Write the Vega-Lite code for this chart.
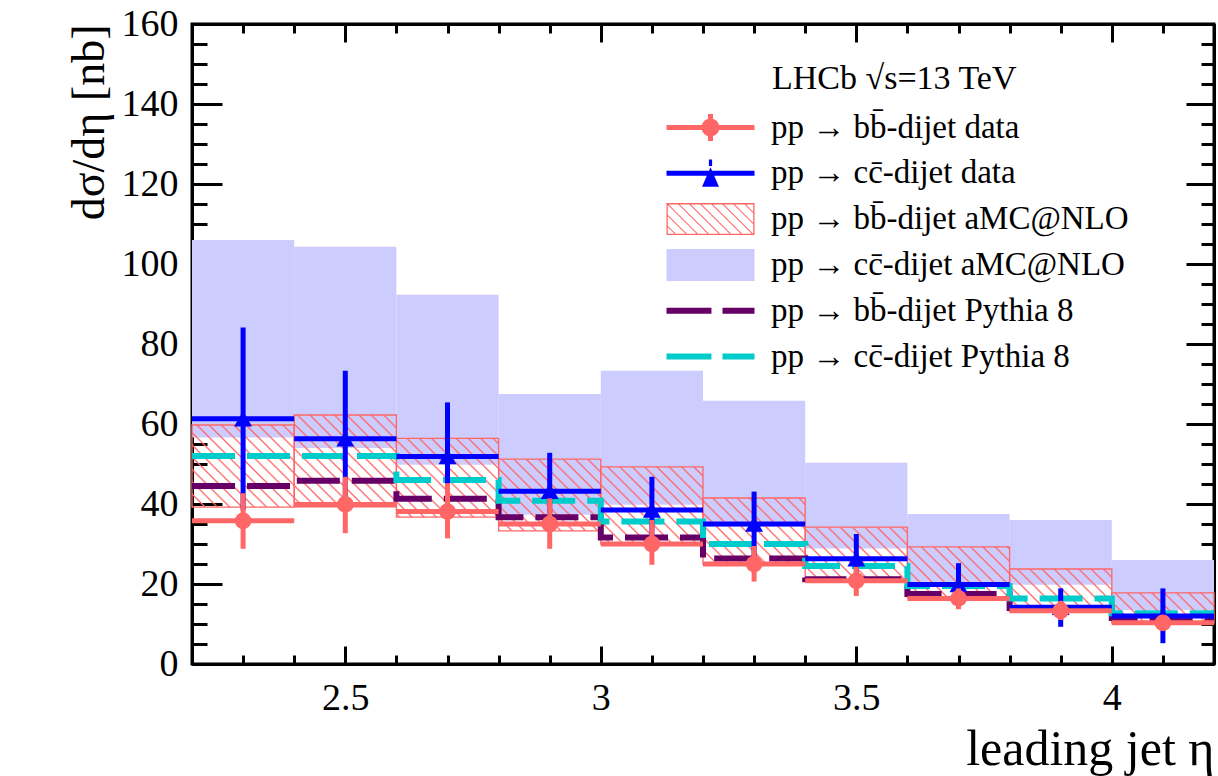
{
"$schema": "https://vega.github.io/schema/vega-lite/v6.json",
"width": 1022, "height": 640,
"autosize": {"type": "none"},
"padding": {"left": 192, "top": 24, "right": 4, "bottom": 112},
"background": "white",
"config": {
  "view": {"stroke": "black", "strokeWidth": 3},
  "axis": {"domainColor": "black", "domainWidth": 3, "tickColor": "black", "tickWidth": 3, "grid": false, "labelFont": "Liberation Serif", "labelFontSize": 38, "labelColor": "black", "titleFont": "Liberation Serif", "titleFontWeight": "normal", "titleColor": "black", "labelOverlap": false, "labelFlush": false},
  "legend": {"orient": "none", "legendX": 502, "legendY": 87, "title": null, "padding": 0, "symbolSize": 1024, "symbolStrokeWidth": 0, "labelFont": "Liberation Serif", "labelFontSize": 33, "labelColor": "black", "labelLimit": 0, "labelOffset": 44, "rowPadding": 11.8}
},
"datasets": {"bins": [
{"lo":2.2,"hi":2.4,"c":2.3,"bd":35.8,"bdl":28.8,"bdh":42.7,"cd":61.3,"cdl":38.5,"cdh":84.1,"bal":39.2,"bah":59.75,"cal":56.6,"cah":106,"bp":44.5,"cp":52},
{"lo":2.4,"hi":2.6,"c":2.5,"bd":39.9,"bdl":32.7,"bdh":46.8,"cd":56.3,"cdl":39.2,"cdh":73.3,"bal":39.3,"bah":62.25,"cal":54,"cah":104.3,"bp":45.8,"cp":52},
{"lo":2.6,"hi":2.8,"c":2.7,"bd":38.1,"bdl":31.4,"bdh":45.2,"cd":51.9,"cdl":38.4,"cdh":65.4,"bal":36.7,"bah":56.4,"cal":49.8,"cah":92.3,"bp":41.3,"cp":46},
{"lo":2.8,"hi":3.0,"c":2.9,"bd":35.0,"bdl":28.8,"bdh":41.4,"cd":43.2,"cdl":33.6,"cdh":52.8,"bal":33.3,"bah":51.2,"cal":37.3,"cah":67.5,"bp":36.7,"cp":40.8},
{"lo":3.0,"hi":3.2,"c":3.1,"bd":30.0,"bdl":24.8,"bdh":36.0,"cd":38.5,"cdl":30.2,"cdh":46.8,"bal":30.0,"bah":49.3,"cal":39.8,"cah":73.3,"bp":31.6,"cp":35.6},
{"lo":3.2,"hi":3.4,"c":3.3,"bd":25.0,"bdl":20.6,"bdh":29.5,"cd":35.0,"cdl":27.0,"cdh":43.1,"bal":24.9,"bah":41.5,"cal":34.3,"cah":65.8,"bp":26.4,"cp":30},
{"lo":3.4,"hi":3.6,"c":3.5,"bd":20.8,"bdl":17.0,"bdh":24.3,"cd":26.3,"cdl":20.0,"cdh":32.5,"bal":20.8,"bah":34.2,"cal":28.9,"cah":50.3,"bp":21.2,"cp":24.5},
{"lo":3.6,"hi":3.8,"c":3.7,"bd":16.4,"bdl":13.7,"bdh":18.9,"cd":19.9,"cdl":14.7,"cdh":25.2,"bal":16.6,"bah":29.3,"cal":20.0,"cah":37.5,"bp":17.5,"cp":19.5},
{"lo":3.8,"hi":4.0,"c":3.9,"bd":13.3,"bdl":11.0,"bdh":15.8,"cd":14.2,"cdl":9.3,"cdh":18.9,"bal":13.1,"bah":23.75,"cal":19.8,"cah":36,"bp":14.0,"cp":16.4},
{"lo":4.0,"hi":4.2,"c":4.1,"bd":10.3,"bdl":8.5,"bdh":12.2,"cd":12.0,"cdl":5.2,"cdh":18.9,"bal":10.2,"bah":17.8,"cal":13.5,"cah":26,"bp":11.5,"cp":12.7}
]},
"resolve": {"axis": {"x": "independent", "y": "independent"}},
"layer": [
{"data": {"name": "bins"},
 "mark": {"type": "rect", "fill": "#ccccff", "strokeWidth": 0},
 "encoding": {
  "x": {"field": "lo", "type": "quantitative", "scale": {"domain": [2.2, 4.2], "nice": false, "zero": false},
        "axis": {"orient": "bottom", "values": [2.2,2.3,2.4,2.5,2.6,2.7,2.8,2.9,3.0,3.1,3.2,3.3,3.4,3.5,3.6,3.7,3.8,3.9,4.0,4.1,4.2],
                 "labelExpr": "abs(datum.value*2 - round(datum.value*2)) < 0.001 ? '' + datum.value : ''",
                 "tickSize": {"condition": {"test": "abs(datum.value*2 - round(datum.value*2)) < 0.001", "value": -18}, "value": -9},
                 "labelPadding": 33, "title": "leading jet η", "titleFontSize": 50, "titleAnchor": "end", "titlePadding": -2}},
  "x2": {"field": "hi"},
  "y": {"field": "cal", "type": "quantitative", "scale": {"domain": [0, 160], "nice": false, "zero": true},
        "axis": {"orient": "left", "values": [0,5,10,15,20,25,30,35,40,45,50,55,60,65,70,75,80,85,90,95,100,105,110,115,120,125,130,135,140,145,150,155,160],
                 "labelExpr": "datum.value % 20 === 0 ? '' + datum.value : ''",
                 "tickSize": {"condition": {"test": "datum.value % 20 === 0", "value": -30}, "value": -15},
                 "labelPadding": 44, "title": "dσ/dη [nb]", "titleFontSize": 46, "titleAnchor": "end", "titlePadding": 8}},
  "y2": {"field": "cah"}
 }},
{"data": {"name": "bins"},
 "transform": [{"fold": ["lo", "hi"], "as": ["edge", "x"]}],
 "mark": {"type": "area", "opacity": 1, "strokeWidth": 0, "fill": {"gradient": "linear", "x1": 0, "y1": 1, "x2": 1.1557, "y2": 0.7646, "stops": [
{"offset":0.0035,"color":"#ff666600"},{"offset":0.005,"color":"#ff6666"},{"offset":0.0065,"color":"#ff666600"},
{"offset":0.0135,"color":"#ff666600"},{"offset":0.015,"color":"#ff6666"},{"offset":0.0165,"color":"#ff666600"},
{"offset":0.0235,"color":"#ff666600"},{"offset":0.025,"color":"#ff6666"},{"offset":0.0265,"color":"#ff666600"},
{"offset":0.0335,"color":"#ff666600"},{"offset":0.035,"color":"#ff6666"},{"offset":0.0365,"color":"#ff666600"},
{"offset":0.0435,"color":"#ff666600"},{"offset":0.045,"color":"#ff6666"},{"offset":0.0465,"color":"#ff666600"},
{"offset":0.0535,"color":"#ff666600"},{"offset":0.055,"color":"#ff6666"},{"offset":0.0565,"color":"#ff666600"},
{"offset":0.0635,"color":"#ff666600"},{"offset":0.065,"color":"#ff6666"},{"offset":0.0665,"color":"#ff666600"},
{"offset":0.0735,"color":"#ff666600"},{"offset":0.075,"color":"#ff6666"},{"offset":0.0765,"color":"#ff666600"},
{"offset":0.0835,"color":"#ff666600"},{"offset":0.085,"color":"#ff6666"},{"offset":0.0865,"color":"#ff666600"},
{"offset":0.0935,"color":"#ff666600"},{"offset":0.095,"color":"#ff6666"},{"offset":0.0965,"color":"#ff666600"},
{"offset":0.1035,"color":"#ff666600"},{"offset":0.105,"color":"#ff6666"},{"offset":0.1065,"color":"#ff666600"},
{"offset":0.1135,"color":"#ff666600"},{"offset":0.115,"color":"#ff6666"},{"offset":0.1165,"color":"#ff666600"},
{"offset":0.1235,"color":"#ff666600"},{"offset":0.125,"color":"#ff6666"},{"offset":0.1265,"color":"#ff666600"},
{"offset":0.1335,"color":"#ff666600"},{"offset":0.135,"color":"#ff6666"},{"offset":0.1365,"color":"#ff666600"},
{"offset":0.1435,"color":"#ff666600"},{"offset":0.145,"color":"#ff6666"},{"offset":0.1465,"color":"#ff666600"},
{"offset":0.1535,"color":"#ff666600"},{"offset":0.155,"color":"#ff6666"},{"offset":0.1565,"color":"#ff666600"},
{"offset":0.1635,"color":"#ff666600"},{"offset":0.165,"color":"#ff6666"},{"offset":0.1665,"color":"#ff666600"},
{"offset":0.1735,"color":"#ff666600"},{"offset":0.175,"color":"#ff6666"},{"offset":0.1765,"color":"#ff666600"},
{"offset":0.1835,"color":"#ff666600"},{"offset":0.185,"color":"#ff6666"},{"offset":0.1865,"color":"#ff666600"},
{"offset":0.1935,"color":"#ff666600"},{"offset":0.195,"color":"#ff6666"},{"offset":0.1965,"color":"#ff666600"},
{"offset":0.2035,"color":"#ff666600"},{"offset":0.205,"color":"#ff6666"},{"offset":0.2065,"color":"#ff666600"},
{"offset":0.2135,"color":"#ff666600"},{"offset":0.215,"color":"#ff6666"},{"offset":0.2165,"color":"#ff666600"},
{"offset":0.2235,"color":"#ff666600"},{"offset":0.225,"color":"#ff6666"},{"offset":0.2265,"color":"#ff666600"},
{"offset":0.2335,"color":"#ff666600"},{"offset":0.235,"color":"#ff6666"},{"offset":0.2365,"color":"#ff666600"},
{"offset":0.2435,"color":"#ff666600"},{"offset":0.245,"color":"#ff6666"},{"offset":0.2465,"color":"#ff666600"},
{"offset":0.2535,"color":"#ff666600"},{"offset":0.255,"color":"#ff6666"},{"offset":0.2565,"color":"#ff666600"},
{"offset":0.2635,"color":"#ff666600"},{"offset":0.265,"color":"#ff6666"},{"offset":0.2665,"color":"#ff666600"},
{"offset":0.2735,"color":"#ff666600"},{"offset":0.275,"color":"#ff6666"},{"offset":0.2765,"color":"#ff666600"},
{"offset":0.2835,"color":"#ff666600"},{"offset":0.285,"color":"#ff6666"},{"offset":0.2865,"color":"#ff666600"},
{"offset":0.2935,"color":"#ff666600"},{"offset":0.295,"color":"#ff6666"},{"offset":0.2965,"color":"#ff666600"},
{"offset":0.3035,"color":"#ff666600"},{"offset":0.305,"color":"#ff6666"},{"offset":0.3065,"color":"#ff666600"},
{"offset":0.3135,"color":"#ff666600"},{"offset":0.315,"color":"#ff6666"},{"offset":0.3165,"color":"#ff666600"},
{"offset":0.3235,"color":"#ff666600"},{"offset":0.325,"color":"#ff6666"},{"offset":0.3265,"color":"#ff666600"},
{"offset":0.3335,"color":"#ff666600"},{"offset":0.335,"color":"#ff6666"},{"offset":0.3365,"color":"#ff666600"},
{"offset":0.3435,"color":"#ff666600"},{"offset":0.345,"color":"#ff6666"},{"offset":0.3465,"color":"#ff666600"},
{"offset":0.3535,"color":"#ff666600"},{"offset":0.355,"color":"#ff6666"},{"offset":0.3565,"color":"#ff666600"},
{"offset":0.3635,"color":"#ff666600"},{"offset":0.365,"color":"#ff6666"},{"offset":0.3665,"color":"#ff666600"},
{"offset":0.3735,"color":"#ff666600"},{"offset":0.375,"color":"#ff6666"},{"offset":0.3765,"color":"#ff666600"},
{"offset":0.3835,"color":"#ff666600"},{"offset":0.385,"color":"#ff6666"},{"offset":0.3865,"color":"#ff666600"},
{"offset":0.3935,"color":"#ff666600"},{"offset":0.395,"color":"#ff6666"},{"offset":0.3965,"color":"#ff666600"},
{"offset":0.4035,"color":"#ff666600"},{"offset":0.405,"color":"#ff6666"},{"offset":0.4065,"color":"#ff666600"},
{"offset":0.4135,"color":"#ff666600"},{"offset":0.415,"color":"#ff6666"},{"offset":0.4165,"color":"#ff666600"},
{"offset":0.4235,"color":"#ff666600"},{"offset":0.425,"color":"#ff6666"},{"offset":0.4265,"color":"#ff666600"},
{"offset":0.4335,"color":"#ff666600"},{"offset":0.435,"color":"#ff6666"},{"offset":0.4365,"color":"#ff666600"},
{"offset":0.4435,"color":"#ff666600"},{"offset":0.445,"color":"#ff6666"},{"offset":0.4465,"color":"#ff666600"},
{"offset":0.4535,"color":"#ff666600"},{"offset":0.455,"color":"#ff6666"},{"offset":0.4565,"color":"#ff666600"},
{"offset":0.4635,"color":"#ff666600"},{"offset":0.465,"color":"#ff6666"},{"offset":0.4665,"color":"#ff666600"},
{"offset":0.4735,"color":"#ff666600"},{"offset":0.475,"color":"#ff6666"},{"offset":0.4765,"color":"#ff666600"},
{"offset":0.4835,"color":"#ff666600"},{"offset":0.485,"color":"#ff6666"},{"offset":0.4865,"color":"#ff666600"},
{"offset":0.4935,"color":"#ff666600"},{"offset":0.495,"color":"#ff6666"},{"offset":0.4965,"color":"#ff666600"},
{"offset":0.5035,"color":"#ff666600"},{"offset":0.505,"color":"#ff6666"},{"offset":0.5065,"color":"#ff666600"},
{"offset":0.5135,"color":"#ff666600"},{"offset":0.515,"color":"#ff6666"},{"offset":0.5165,"color":"#ff666600"},
{"offset":0.5235,"color":"#ff666600"},{"offset":0.525,"color":"#ff6666"},{"offset":0.5265,"color":"#ff666600"},
{"offset":0.5335,"color":"#ff666600"},{"offset":0.535,"color":"#ff6666"},{"offset":0.5365,"color":"#ff666600"},
{"offset":0.5435,"color":"#ff666600"},{"offset":0.545,"color":"#ff6666"},{"offset":0.5465,"color":"#ff666600"},
{"offset":0.5535,"color":"#ff666600"},{"offset":0.555,"color":"#ff6666"},{"offset":0.5565,"color":"#ff666600"},
{"offset":0.5635,"color":"#ff666600"},{"offset":0.565,"color":"#ff6666"},{"offset":0.5665,"color":"#ff666600"},
{"offset":0.5735,"color":"#ff666600"},{"offset":0.575,"color":"#ff6666"},{"offset":0.5765,"color":"#ff666600"},
{"offset":0.5835,"color":"#ff666600"},{"offset":0.585,"color":"#ff6666"},{"offset":0.5865,"color":"#ff666600"},
{"offset":0.5935,"color":"#ff666600"},{"offset":0.595,"color":"#ff6666"},{"offset":0.5965,"color":"#ff666600"},
{"offset":0.6035,"color":"#ff666600"},{"offset":0.605,"color":"#ff6666"},{"offset":0.6065,"color":"#ff666600"},
{"offset":0.6135,"color":"#ff666600"},{"offset":0.615,"color":"#ff6666"},{"offset":0.6165,"color":"#ff666600"},
{"offset":0.6235,"color":"#ff666600"},{"offset":0.625,"color":"#ff6666"},{"offset":0.6265,"color":"#ff666600"},
{"offset":0.6335,"color":"#ff666600"},{"offset":0.635,"color":"#ff6666"},{"offset":0.6365,"color":"#ff666600"},
{"offset":0.6435,"color":"#ff666600"},{"offset":0.645,"color":"#ff6666"},{"offset":0.6465,"color":"#ff666600"},
{"offset":0.6535,"color":"#ff666600"},{"offset":0.655,"color":"#ff6666"},{"offset":0.6565,"color":"#ff666600"},
{"offset":0.6635,"color":"#ff666600"},{"offset":0.665,"color":"#ff6666"},{"offset":0.6665,"color":"#ff666600"},
{"offset":0.6735,"color":"#ff666600"},{"offset":0.675,"color":"#ff6666"},{"offset":0.6765,"color":"#ff666600"},
{"offset":0.6835,"color":"#ff666600"},{"offset":0.685,"color":"#ff6666"},{"offset":0.6865,"color":"#ff666600"},
{"offset":0.6935,"color":"#ff666600"},{"offset":0.695,"color":"#ff6666"},{"offset":0.6965,"color":"#ff666600"},
{"offset":0.7035,"color":"#ff666600"},{"offset":0.705,"color":"#ff6666"},{"offset":0.7065,"color":"#ff666600"},
{"offset":0.7135,"color":"#ff666600"},{"offset":0.715,"color":"#ff6666"},{"offset":0.7165,"color":"#ff666600"},
{"offset":0.7235,"color":"#ff666600"},{"offset":0.725,"color":"#ff6666"},{"offset":0.7265,"color":"#ff666600"},
{"offset":0.7335,"color":"#ff666600"},{"offset":0.735,"color":"#ff6666"},{"offset":0.7365,"color":"#ff666600"},
{"offset":0.7435,"color":"#ff666600"},{"offset":0.745,"color":"#ff6666"},{"offset":0.7465,"color":"#ff666600"},
{"offset":0.7535,"color":"#ff666600"},{"offset":0.755,"color":"#ff6666"},{"offset":0.7565,"color":"#ff666600"},
{"offset":0.7635,"color":"#ff666600"},{"offset":0.765,"color":"#ff6666"},{"offset":0.7665,"color":"#ff666600"},
{"offset":0.7735,"color":"#ff666600"},{"offset":0.775,"color":"#ff6666"},{"offset":0.7765,"color":"#ff666600"},
{"offset":0.7835,"color":"#ff666600"},{"offset":0.785,"color":"#ff6666"},{"offset":0.7865,"color":"#ff666600"},
{"offset":0.7935,"color":"#ff666600"},{"offset":0.795,"color":"#ff6666"},{"offset":0.7965,"color":"#ff666600"},
{"offset":0.8035,"color":"#ff666600"},{"offset":0.805,"color":"#ff6666"},{"offset":0.8065,"color":"#ff666600"},
{"offset":0.8135,"color":"#ff666600"},{"offset":0.815,"color":"#ff6666"},{"offset":0.8165,"color":"#ff666600"},
{"offset":0.8235,"color":"#ff666600"},{"offset":0.825,"color":"#ff6666"},{"offset":0.8265,"color":"#ff666600"},
{"offset":0.8335,"color":"#ff666600"},{"offset":0.835,"color":"#ff6666"},{"offset":0.8365,"color":"#ff666600"},
{"offset":0.8435,"color":"#ff666600"},{"offset":0.845,"color":"#ff6666"},{"offset":0.8465,"color":"#ff666600"},
{"offset":0.8535,"color":"#ff666600"},{"offset":0.855,"color":"#ff6666"},{"offset":0.8565,"color":"#ff666600"},
{"offset":0.8635,"color":"#ff666600"},{"offset":0.865,"color":"#ff6666"},{"offset":0.8665,"color":"#ff666600"},
{"offset":0.8735,"color":"#ff666600"},{"offset":0.875,"color":"#ff6666"},{"offset":0.8765,"color":"#ff666600"},
{"offset":0.8835,"color":"#ff666600"},{"offset":0.885,"color":"#ff6666"},{"offset":0.8865,"color":"#ff666600"},
{"offset":0.8935,"color":"#ff666600"},{"offset":0.895,"color":"#ff6666"},{"offset":0.8965,"color":"#ff666600"},
{"offset":0.9035,"color":"#ff666600"},{"offset":0.905,"color":"#ff6666"},{"offset":0.9065,"color":"#ff666600"},
{"offset":0.9135,"color":"#ff666600"},{"offset":0.915,"color":"#ff6666"},{"offset":0.9165,"color":"#ff666600"},
{"offset":0.9235,"color":"#ff666600"},{"offset":0.925,"color":"#ff6666"},{"offset":0.9265,"color":"#ff666600"},
{"offset":0.9335,"color":"#ff666600"},{"offset":0.935,"color":"#ff6666"},{"offset":0.9365,"color":"#ff666600"},
{"offset":0.9435,"color":"#ff666600"},{"offset":0.945,"color":"#ff6666"},{"offset":0.9465,"color":"#ff666600"},
{"offset":0.9535,"color":"#ff666600"},{"offset":0.955,"color":"#ff6666"},{"offset":0.9565,"color":"#ff666600"},
{"offset":0.9635,"color":"#ff666600"},{"offset":0.965,"color":"#ff6666"},{"offset":0.9665,"color":"#ff666600"},
{"offset":0.9735,"color":"#ff666600"},{"offset":0.975,"color":"#ff6666"},{"offset":0.9765,"color":"#ff666600"},
{"offset":0.9835,"color":"#ff666600"},{"offset":0.985,"color":"#ff6666"},{"offset":0.9865,"color":"#ff666600"},
{"offset":0.9935,"color":"#ff666600"},{"offset":0.995,"color":"#ff6666"},{"offset":0.9965,"color":"#ff666600"}
 ]}},
 "encoding": {
  "x": {"field": "x", "type": "quantitative", "scale": {"domain": [2.2, 4.2], "nice": false, "zero": false}, "axis": null},
  "y": {"field": "bal", "type": "quantitative", "scale": {"domain": [0, 160], "nice": false}, "axis": null},
  "y2": {"field": "bah"}
 }},
{"data": {"name": "bins"},
 "mark": {"type": "rect", "fill": "transparent", "stroke": "#ff6666", "strokeWidth": 1.3},
 "encoding": {
  "x": {"field": "lo", "type": "quantitative", "scale": {"domain": [2.2, 4.2], "nice": false, "zero": false},
        "axis": {"orient": "top", "values": [2.2,2.3,2.4,2.5,2.6,2.7,2.8,2.9,3.0,3.1,3.2,3.3,3.4,3.5,3.6,3.7,3.8,3.9,4.0,4.1,4.2],
                 "labels": false, "title": null,
                 "tickSize": {"condition": {"test": "abs(datum.value*2 - round(datum.value*2)) < 0.001", "value": -18}, "value": -9}}},
  "x2": {"field": "hi"},
  "y": {"field": "bal", "type": "quantitative", "scale": {"domain": [0, 160], "nice": false},
        "axis": {"orient": "right", "values": [0,5,10,15,20,25,30,35,40,45,50,55,60,65,70,75,80,85,90,95,100,105,110,115,120,125,130,135,140,145,150,155,160],
                 "labels": false, "title": null,
                 "tickSize": {"condition": {"test": "datum.value % 20 === 0", "value": -28}, "value": -13}}},
  "y2": {"field": "bah"}
 }},
{"data": {"name": "bins"},
 "transform": [{"fold": ["lo", "hi"], "as": ["edge", "x"]}],
 "mark": {"type": "line", "stroke": "#660066", "strokeWidth": 6, "strokeDash": [43, 12], "strokeCap": "butt", "strokeJoin": "miter"},
 "encoding": {
  "x": {"field": "x", "type": "quantitative", "scale": {"domain": [2.2, 4.2], "nice": false, "zero": false}, "axis": null},
  "y": {"field": "bp", "type": "quantitative", "scale": {"domain": [0, 160], "nice": false}, "axis": null}
 }},
{"data": {"name": "bins"},
 "transform": [{"fold": ["lo", "hi"], "as": ["edge", "x"]}],
 "mark": {"type": "line", "stroke": "#00cccc", "strokeWidth": 6, "strokeDash": [43, 12], "strokeCap": "butt", "strokeJoin": "miter"},
 "encoding": {
  "x": {"field": "x", "type": "quantitative", "scale": {"domain": [2.2, 4.2], "nice": false, "zero": false}, "axis": null},
  "y": {"field": "cp", "type": "quantitative", "scale": {"domain": [0, 160], "nice": false}, "axis": null}
 }},
{"data": {"name": "bins"},
 "mark": {"type": "rule", "stroke": "#0000ff", "strokeWidth": 5},
 "encoding": {
  "x": {"field": "lo", "type": "quantitative", "scale": {"domain": [2.2, 4.2], "nice": false, "zero": false}, "axis": null},
  "x2": {"field": "hi"},
  "y": {"field": "cd", "type": "quantitative", "scale": {"domain": [0, 160], "nice": false}, "axis": null}
 }},
{"data": {"name": "bins"},
 "mark": {"type": "rule", "stroke": "#0000ff", "strokeWidth": 5},
 "encoding": {
  "x": {"field": "c", "type": "quantitative", "scale": {"domain": [2.2, 4.2], "nice": false, "zero": false}, "axis": null},
  "y": {"field": "cdl", "type": "quantitative", "scale": {"domain": [0, 160], "nice": false}, "axis": null},
  "y2": {"field": "cdh"}
 }},
{"data": {"name": "bins"},
 "mark": {"type": "point", "shape": "triangle-up", "filled": true, "fill": "#0000ff", "size": 320, "opacity": 1, "strokeWidth": 0},
 "encoding": {
  "x": {"field": "c", "type": "quantitative", "scale": {"domain": [2.2, 4.2], "nice": false, "zero": false}, "axis": null},
  "y": {"field": "cd", "type": "quantitative", "scale": {"domain": [0, 160], "nice": false}, "axis": null}
 }},
{"data": {"name": "bins"},
 "mark": {"type": "rule", "stroke": "#ff6666", "strokeWidth": 5},
 "encoding": {
  "x": {"field": "lo", "type": "quantitative", "scale": {"domain": [2.2, 4.2], "nice": false, "zero": false}, "axis": null},
  "x2": {"field": "hi"},
  "y": {"field": "bd", "type": "quantitative", "scale": {"domain": [0, 160], "nice": false}, "axis": null}
 }},
{"data": {"name": "bins"},
 "mark": {"type": "rule", "stroke": "#ff6666", "strokeWidth": 5},
 "encoding": {
  "x": {"field": "c", "type": "quantitative", "scale": {"domain": [2.2, 4.2], "nice": false, "zero": false}, "axis": null},
  "y": {"field": "bdl", "type": "quantitative", "scale": {"domain": [0, 160], "nice": false}, "axis": null},
  "y2": {"field": "bdh"}
 }},
{"data": {"name": "bins"},
 "mark": {"type": "point", "shape": "circle", "filled": true, "fill": "#ff6666", "size": 280, "opacity": 1, "strokeWidth": 0},
 "encoding": {
  "x": {"field": "c", "type": "quantitative", "scale": {"domain": [2.2, 4.2], "nice": false, "zero": false}, "axis": null},
  "y": {"field": "bd", "type": "quantitative", "scale": {"domain": [0, 160], "nice": false}, "axis": null}
 }},
{"data": {"values": [{}]},
 "mark": {"type": "text", "font": "Liberation Serif", "fontSize": 34, "align": "left", "baseline": "middle", "color": "black"},
 "encoding": {
  "x": {"datum": 3.335, "type": "quantitative", "scale": {"domain": [2.2, 4.2], "nice": false, "zero": false}, "axis": null},
  "y": {"datum": 146.3, "type": "quantitative", "scale": {"domain": [0, 160], "nice": false}, "axis": null},
  "text": {"value": "LHCb   √s=13 TeV"}
 }},
{"data": {"values": []},
 "mark": {"type": "point", "opacity": 1, "filled": true, "strokeWidth": 0},
 "encoding": {
  "fill": {"field": "s", "type": "nominal",
   "scale": {"domain": ["A", "B", "C", "D", "E", "F"], "range": ["#ff6666", "#0000ff", "#ff6666", "#ccccff", "#660066", "#00cccc"]},
   "legend": {"labelExpr": "['pp → bb\u0304-dijet data','pp → cc\u0304-dijet data','pp → bb\u0304-dijet aMC@NLO','pp → cc\u0304-dijet aMC@NLO','pp → bb\u0304-dijet Pythia 8','pp → cc\u0304-dijet Pythia 8'][indexof(['A','B','C','D','E','F'], datum.value)]"}},
  "shape": {"field": "s", "type": "nominal",
   "scale": {"domain": ["A", "B", "C", "D", "E", "F"],
             "range": [
               "M-2.75,-0.156H2.75V0.156H-2.75ZM-0.156,-0.84H0.156V0.84H-0.156ZM-0.56,0A0.56,0.56 0 1,1 0.56,0A0.56,0.56 0 1,1 -0.56,0Z",
               "M-2.75,-0.156H2.75V0.156H-2.75ZM-0.1,-0.86H0.1V-0.45H-0.1ZM0,-0.38L0.53,0.84H-0.53Z",
               "M-2.75,-1H2.75V1H-2.75ZM-2.67,-0.92V0.92H2.67V-0.92ZM-2.795,0.38H-2.705L-2.085,1H-2.175ZM-2.795,-0.31H-2.705L-1.395,1H-1.485ZM-2.795,-1H-2.705L-0.705,1H-0.795ZM-2.105,-1H-2.015L-0.015,1H-0.105ZM-1.415,-1H-1.325L0.675,1H0.585ZM-0.725,-1H-0.635L1.365,1H1.275ZM-0.035,-1H0.055L2.055,1H1.965ZM0.655,-1H0.745L2.745,1H2.655ZM1.345,-1H1.435L2.795,0.36H2.705ZM2.035,-1H2.125L2.795,-0.33H2.705Z",
               "M-2.75,-1H2.75V1H-2.75Z",
               "M-2.75,-0.19H0.06V0.19H-2.75ZM0.75,-0.19H2.75V0.19H0.75Z",
               "M-2.75,-0.19H0.06V0.19H-2.75ZM0.75,-0.19H2.75V0.19H0.75Z"
             ]},
   "legend": {"labelExpr": "['pp → bb\u0304-dijet data','pp → cc\u0304-dijet data','pp → bb\u0304-dijet aMC@NLO','pp → cc\u0304-dijet aMC@NLO','pp → bb\u0304-dijet Pythia 8','pp → cc\u0304-dijet Pythia 8'][indexof(['A','B','C','D','E','F'], datum.value)]"}}
 }}
]
}
